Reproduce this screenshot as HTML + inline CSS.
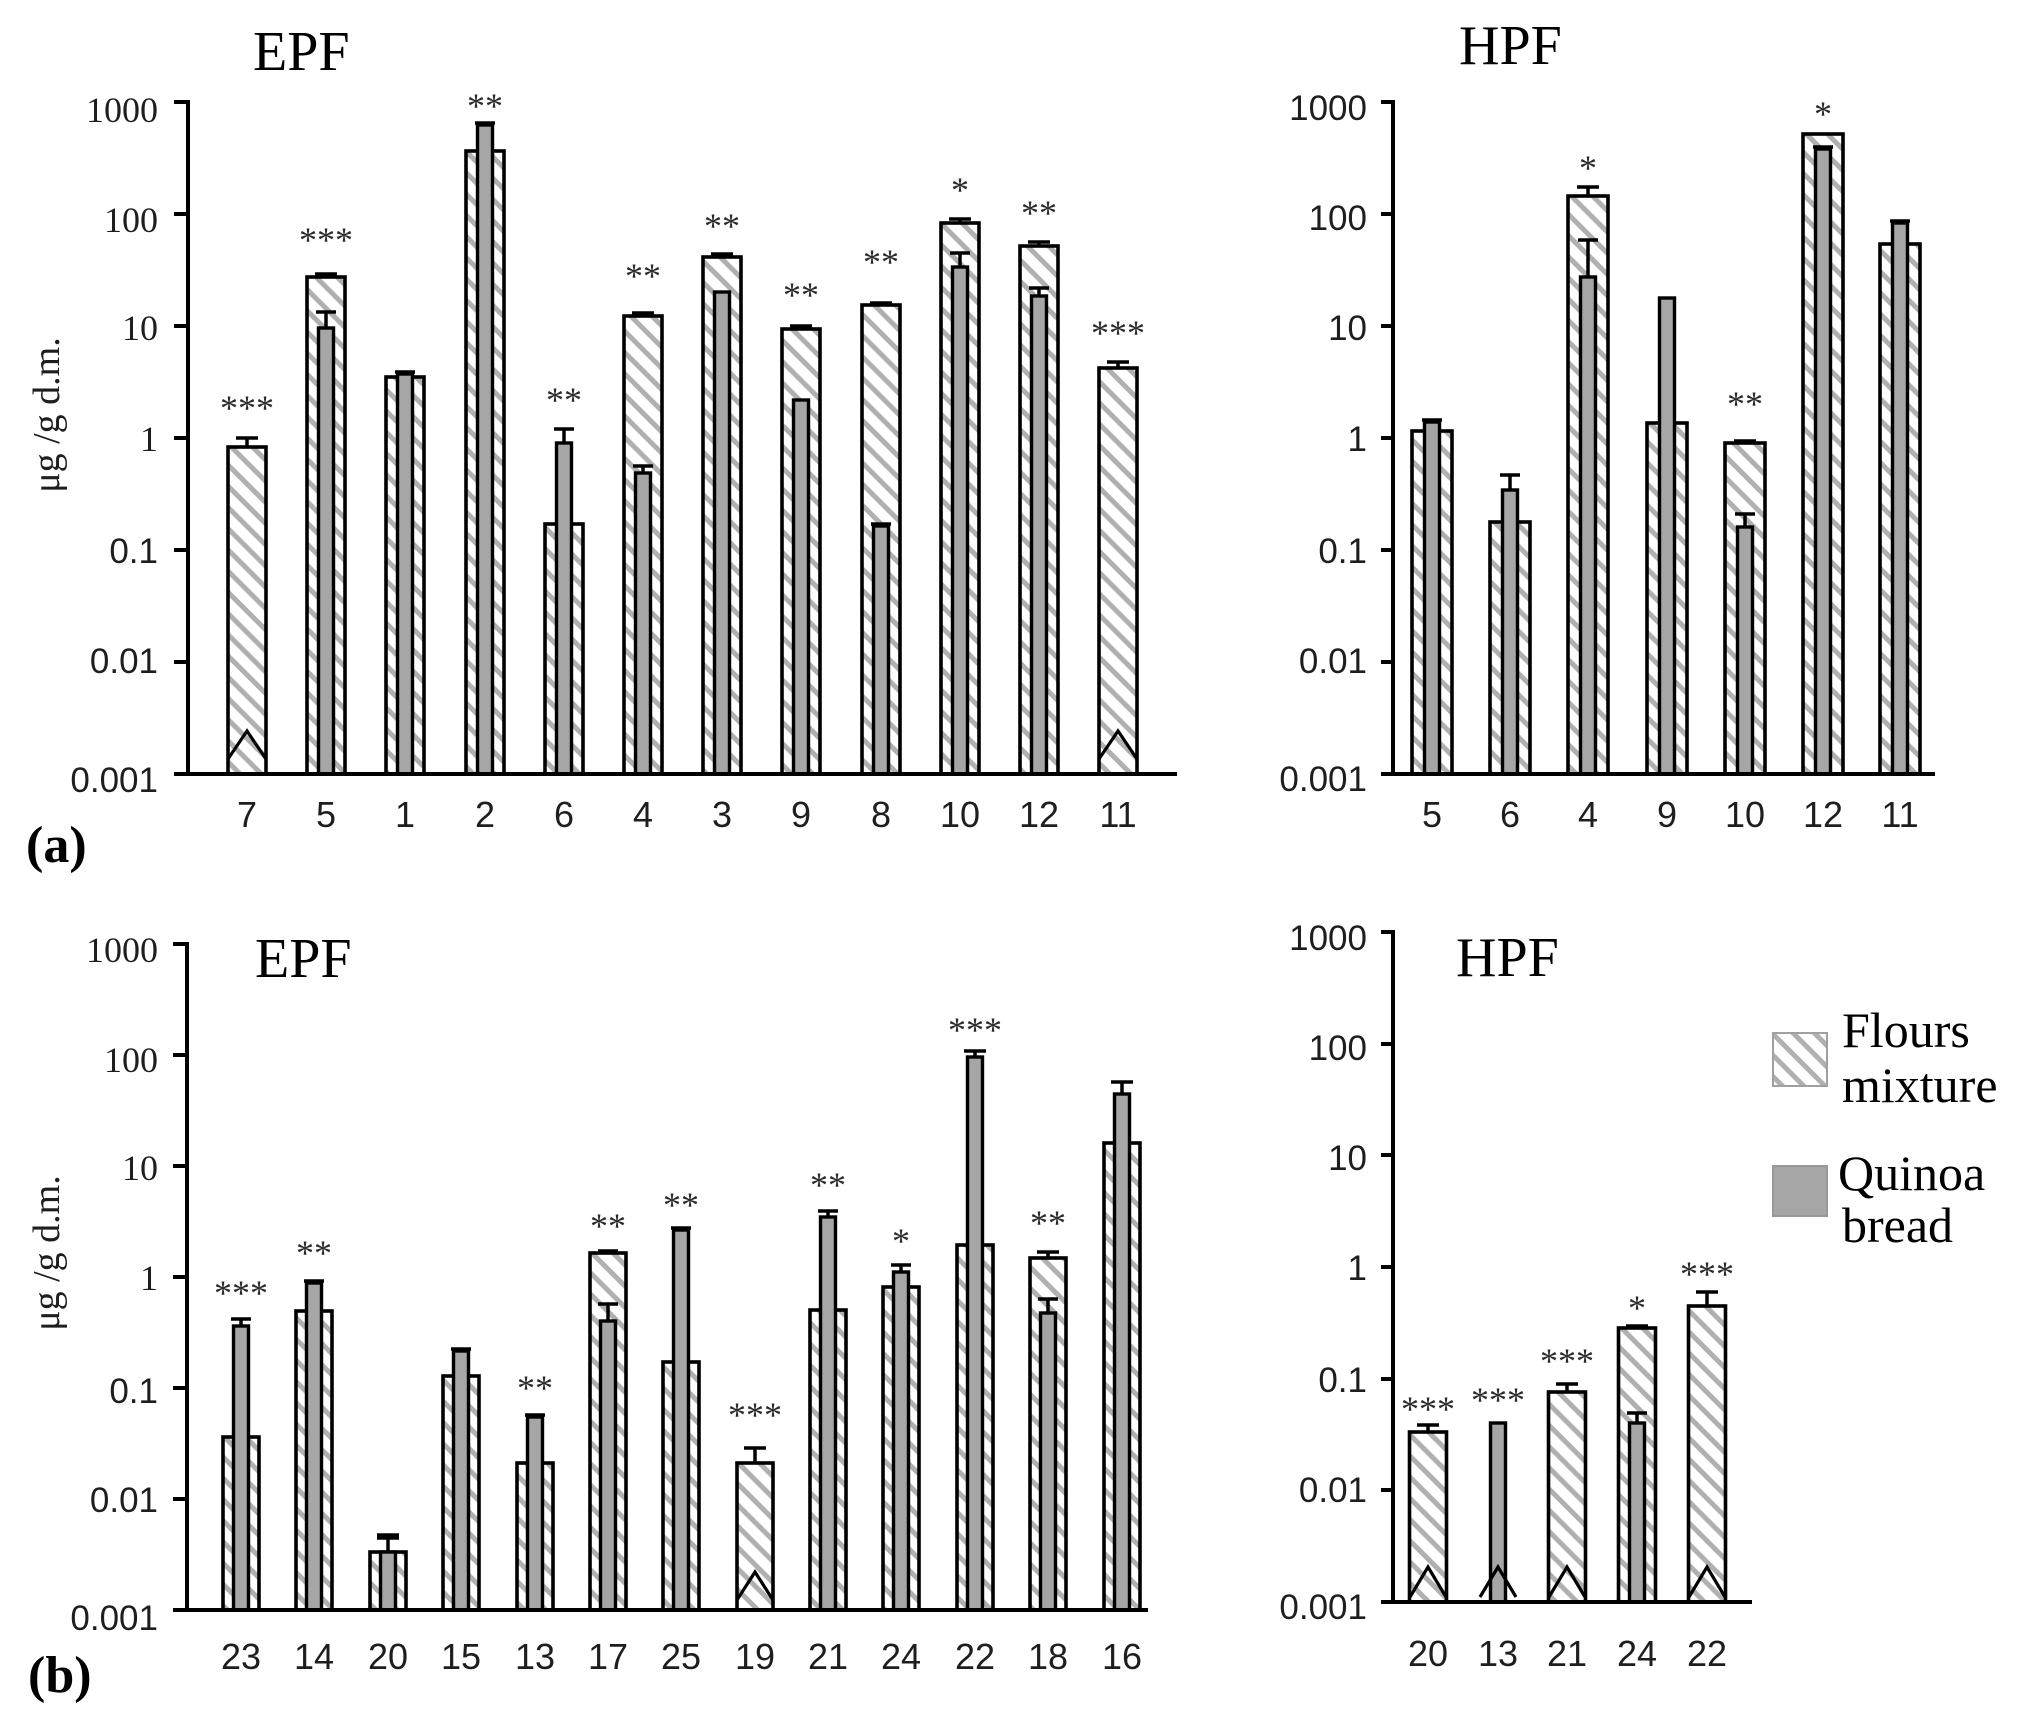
<!DOCTYPE html>
<html><head><meta charset="utf-8"><style>
html,body{margin:0;padding:0;background:#fff;}
svg{display:block;}
.t{font-family:"Liberation Sans",sans-serif;font-size:35px;fill:#1e1e1e;}
.ts{font-family:"Liberation Serif",serif;font-size:36px;fill:#1e1e1e;}
.c{font-family:"Liberation Sans",sans-serif;font-size:36px;fill:#1e1e1e;text-anchor:middle;}
.s{font-family:"Liberation Serif",serif;font-size:36px;fill:#2a2a2a;text-anchor:middle;}
.ti{font-family:"Liberation Serif",serif;font-size:56px;fill:#000;}
.lg{font-family:"Liberation Serif",serif;font-size:50px;fill:#000;}
.yl{font-family:"Liberation Serif",serif;font-size:38px;fill:#1e1e1e;text-anchor:middle;}
.pl{font-family:"Liberation Serif",serif;font-size:52px;font-weight:bold;fill:#000;}
.f{fill:url(#h);stroke:#000;stroke-width:3.6;}
.q{fill:#a6a6a6;stroke:#000;stroke-width:3.4;}
.e{stroke:#000;stroke-width:3.5;fill:none;}
.ax{stroke:#000;stroke-width:4;fill:none;}
.ch{stroke:#000;stroke-width:3.2;fill:none;}
</style></head><body>
<svg width="2035" height="1718" viewBox="0 0 2035 1718" xmlns="http://www.w3.org/2000/svg">
<defs>
<pattern id="h" patternUnits="userSpaceOnUse" width="15" height="15" patternTransform="rotate(45)">
<rect width="15" height="15" fill="#fff"/><rect width="15" height="5" fill="#b0b0b0"/>
</pattern>
</defs>
<rect width="2035" height="1718" fill="#fff"/>

<!-- ================= PANEL A EPF ================= -->
<text class="ti" x="253" y="70">EPF</text>
<text class="yl" transform="rotate(-90 59 415)" x="59" y="415">μg /g d.m.</text>
<text class="pl" x="26" y="862">(a)</text>

<rect class="f" x="228" y="447" width="38" height="327"/>
<path class="e" d="M247 447V438M236 438H258"/>
<polyline class="ch" points="228,759 247,731 266,759"/>

<rect class="f" x="307" y="277" width="38" height="497"/>
<path class="e" d="M326 277V274M315 274H337"/>
<rect class="q" x="318.5" y="328" width="15" height="446"/>
<path class="e" d="M326 328V312M316 312H336"/>

<rect class="f" x="386" y="377" width="38" height="397"/>
<rect class="q" x="397.5" y="374" width="15" height="400"/>
<path class="e" d="M395 372H415"/>

<rect class="f" x="466" y="151" width="38" height="623"/>
<rect class="q" x="477.5" y="125" width="15" height="649"/>
<path class="e" d="M475 123H495"/>

<rect class="f" x="545" y="524" width="38" height="250"/>
<rect class="q" x="556.5" y="443" width="15" height="331"/>
<path class="e" d="M564 443V429M554 429H574"/>

<rect class="f" x="624" y="316" width="38" height="458"/>
<path class="e" d="M643 316V313M632 313H654"/>
<rect class="q" x="635.5" y="473" width="15" height="301"/>
<path class="e" d="M643 473V466M633 466H653"/>

<rect class="f" x="703" y="257" width="38" height="517"/>
<path class="e" d="M722 257V254M711 254H733"/>
<rect class="q" x="714.5" y="292" width="15" height="482"/>

<rect class="f" x="782" y="329" width="38" height="445"/>
<path class="e" d="M801 329V326M790 326H812"/>
<rect class="q" x="793.5" y="400" width="15" height="374"/>

<rect class="f" x="862" y="305" width="38" height="469"/>
<path class="e" d="M881 305V303M870 303H892"/>
<rect class="q" x="873.5" y="526" width="15" height="248"/>
<path class="e" d="M871 524H891"/>

<rect class="f" x="941" y="223" width="38" height="551"/>
<path class="e" d="M960 223V219M949 219H971"/>
<rect class="q" x="952.5" y="267" width="15" height="507"/>
<path class="e" d="M960 267V253M950 253H970"/>

<rect class="f" x="1020" y="246" width="38" height="528"/>
<path class="e" d="M1039 246V242M1028 242H1050"/>
<rect class="q" x="1031.5" y="296" width="15" height="478"/>
<path class="e" d="M1039 296V288M1029 288H1049"/>

<rect class="f" x="1099" y="368" width="38" height="406"/>
<path class="e" d="M1118 368V362M1107 362H1129"/>
<polyline class="ch" points="1099,759 1118,731 1137,759"/>

<text class="s" x="247" y="420">***</text>
<text class="s" x="326" y="252">***</text>
<text class="s" x="485" y="118">**</text>
<text class="s" x="564" y="412">**</text>
<text class="s" x="643" y="288">**</text>
<text class="s" x="722" y="238">**</text>
<text class="s" x="801" y="307">**</text>
<text class="s" x="881" y="274">**</text>
<text class="s" x="960" y="202">*</text>
<text class="s" x="1039" y="225">**</text>
<text class="s" x="1118" y="345">***</text>

<path class="ax" d="M188 100V776M174 774H1177M174 102H188M174 214H188M174 326H188M174 438H188M174 550H188M174 662H188"/>
<text class="ts" x="158" y="122" text-anchor="end">1000</text>
<text class="ts" x="158" y="232" text-anchor="end">100</text>
<text class="ts" x="158" y="340" text-anchor="end">10</text>
<text class="ts" x="158" y="451" text-anchor="end">1</text>
<text class="t" x="158" y="563" text-anchor="end">0.1</text>
<text class="t" x="158" y="673" text-anchor="end">0.01</text>
<text class="t" x="158" y="792" text-anchor="end">0.001</text>

<text class="c" x="247" y="827">7</text>
<text class="c" x="326" y="827">5</text>
<text class="c" x="405" y="827">1</text>
<text class="c" x="485" y="827">2</text>
<text class="c" x="564" y="827">6</text>
<text class="c" x="643" y="827">4</text>
<text class="c" x="722" y="827">3</text>
<text class="c" x="801" y="827">9</text>
<text class="c" x="881" y="827">8</text>
<text class="c" x="960" y="827">10</text>
<text class="c" x="1039" y="827">12</text>
<text class="c" x="1118" y="827">11</text>

<!-- ================= PANEL A HPF ================= -->
<text class="ti" x="1459" y="64">HPF</text>

<rect class="f" x="1412" y="431" width="40" height="343"/>
<rect class="q" x="1424.5" y="422" width="15" height="352"/>
<path class="e" d="M1422 420H1442"/>

<rect class="f" x="1490" y="522" width="40" height="252"/>
<rect class="q" x="1502.5" y="490" width="15" height="284"/>
<path class="e" d="M1510 490V475M1500 475H1520"/>

<rect class="f" x="1568" y="196" width="40" height="578"/>
<path class="e" d="M1588 196V187M1577 187H1599"/>
<rect class="q" x="1580.5" y="277" width="15" height="497"/>
<path class="e" d="M1588 277V240M1578 240H1598"/>

<rect class="f" x="1647" y="423" width="40" height="351"/>
<rect class="q" x="1659.5" y="298" width="15" height="476"/>

<rect class="f" x="1725" y="443" width="40" height="331"/>
<path class="e" d="M1734 441H1756"/>
<rect class="q" x="1737.5" y="527" width="15" height="247"/>
<path class="e" d="M1745 527V514M1735 514H1755"/>

<rect class="f" x="1803" y="134" width="40" height="640"/>
<rect class="q" x="1815.5" y="149" width="15" height="625"/>
<path class="e" d="M1813 147H1833"/>

<rect class="f" x="1880" y="244" width="40" height="530"/>
<rect class="q" x="1892.5" y="223" width="15" height="551"/>
<path class="e" d="M1890 221H1910"/>

<text class="s" x="1588" y="180">*</text>
<text class="s" x="1745" y="416">**</text>
<text class="s" x="1823" y="126">*</text>

<path class="ax" d="M1393 100V776M1381 774H1935M1381 102H1393M1381 214H1393M1381 326H1393M1381 438H1393M1381 550H1393M1381 662H1393"/>
<text class="t" x="1367" y="120" text-anchor="end">1000</text>
<text class="t" x="1367" y="230" text-anchor="end">100</text>
<text class="t" x="1367" y="340" text-anchor="end">10</text>
<text class="t" x="1367" y="451" text-anchor="end">1</text>
<text class="t" x="1367" y="563" text-anchor="end">0.1</text>
<text class="t" x="1367" y="673" text-anchor="end">0.01</text>
<text class="t" x="1367" y="791" text-anchor="end">0.001</text>

<text class="c" x="1432" y="827">5</text>
<text class="c" x="1510" y="827">6</text>
<text class="c" x="1588" y="827">4</text>
<text class="c" x="1667" y="827">9</text>
<text class="c" x="1745" y="827">10</text>
<text class="c" x="1823" y="827">12</text>
<text class="c" x="1900" y="827">11</text>

<!-- ================= PANEL B EPF ================= -->
<text class="ti" x="255" y="977">EPF</text>
<text class="yl" transform="rotate(-90 59 1253)" x="59" y="1253">μg /g d.m.</text>
<text class="pl" x="28" y="1692">(b)</text>

<rect class="f" x="223" y="1437" width="36" height="173"/>
<rect class="q" x="233.5" y="1326" width="15" height="284"/>
<path class="e" d="M241 1326V1319M231 1319H251"/>

<rect class="f" x="296" y="1311" width="36" height="299"/>
<rect class="q" x="306.5" y="1283" width="15" height="327"/>
<path class="e" d="M304 1281H324"/>

<rect class="f" x="370" y="1552" width="36" height="58"/>
<rect class="q" x="380.5" y="1552" width="15" height="58"/>
<path class="e" d="M388 1552V1535M377 1535H399M377 1538H399"/>

<rect class="f" x="443" y="1376" width="36" height="234"/>
<rect class="q" x="453.5" y="1351" width="15" height="259"/>
<path class="e" d="M451 1349H471"/>

<rect class="f" x="517" y="1463" width="36" height="147"/>
<rect class="q" x="527.5" y="1417" width="15" height="193"/>
<path class="e" d="M525 1415H545"/>

<rect class="f" x="590" y="1253" width="36" height="357"/>
<path class="e" d="M598 1251H618"/>
<rect class="q" x="600.5" y="1321" width="15" height="289"/>
<path class="e" d="M608 1321V1304M598 1304H618"/>

<rect class="f" x="663" y="1362" width="36" height="248"/>
<rect class="q" x="673.5" y="1230" width="15" height="380"/>
<path class="e" d="M671 1228H691"/>

<rect class="f" x="737" y="1463" width="36" height="147"/>
<path class="e" d="M755 1463V1448M744 1448H766"/>
<polyline class="ch" points="737,1600 755,1572 773,1600"/>

<rect class="f" x="810" y="1310" width="36" height="300"/>
<rect class="q" x="820.5" y="1217" width="15" height="393"/>
<path class="e" d="M828 1217V1211M818 1211H838"/>

<rect class="f" x="883" y="1287" width="36" height="323"/>
<rect class="q" x="893.5" y="1272" width="15" height="338"/>
<path class="e" d="M901 1272V1265M891 1265H911"/>

<rect class="f" x="957" y="1245" width="36" height="365"/>
<rect class="q" x="967.5" y="1057" width="15" height="553"/>
<path class="e" d="M975 1057V1051M964 1051H986"/>

<rect class="f" x="1030" y="1258" width="36" height="352"/>
<path class="e" d="M1048 1258V1252M1037 1252H1059"/>
<rect class="q" x="1040.5" y="1313" width="15" height="297"/>
<path class="e" d="M1048 1313V1299M1038 1299H1058"/>

<rect class="f" x="1104" y="1143" width="36" height="467"/>
<rect class="q" x="1114.5" y="1094" width="15" height="516"/>
<path class="e" d="M1122 1094V1082M1111 1082H1133"/>

<text class="s" x="241" y="1305">***</text>
<text class="s" x="314" y="1265">**</text>
<text class="s" x="535" y="1400">**</text>
<text class="s" x="608" y="1238">**</text>
<text class="s" x="681" y="1217">**</text>
<text class="s" x="755" y="1427">***</text>
<text class="s" x="828" y="1197">**</text>
<text class="s" x="901" y="1253">*</text>
<text class="s" x="975" y="1042">***</text>
<text class="s" x="1048" y="1235">**</text>

<path class="ax" d="M187 942V1612M173 1610H1148M173 944H187M173 1055H187M173 1166H187M173 1277H187M173 1388H187M173 1499H187"/>
<text class="ts" x="158" y="962" text-anchor="end">1000</text>
<text class="ts" x="158" y="1072" text-anchor="end">100</text>
<text class="ts" x="158" y="1180" text-anchor="end">10</text>
<text class="ts" x="158" y="1290" text-anchor="end">1</text>
<text class="t" x="158" y="1403" text-anchor="end">0.1</text>
<text class="t" x="158" y="1512" text-anchor="end">0.01</text>
<text class="t" x="158" y="1630" text-anchor="end">0.001</text>

<text class="c" x="241" y="1669">23</text>
<text class="c" x="314" y="1669">14</text>
<text class="c" x="388" y="1669">20</text>
<text class="c" x="461" y="1669">15</text>
<text class="c" x="535" y="1669">13</text>
<text class="c" x="608" y="1669">17</text>
<text class="c" x="681" y="1669">25</text>
<text class="c" x="755" y="1669">19</text>
<text class="c" x="828" y="1669">21</text>
<text class="c" x="901" y="1669">24</text>
<text class="c" x="975" y="1669">22</text>
<text class="c" x="1048" y="1669">18</text>
<text class="c" x="1122" y="1669">16</text>

<!-- ================= PANEL B HPF ================= -->
<text class="ti" x="1456" y="976">HPF</text>

<rect class="f" x="1409.5" y="1432" width="37" height="170"/>
<path class="e" d="M1428 1432V1425M1417 1425H1439"/>
<polyline class="ch" points="1410,1597 1428,1567 1446,1597"/>

<rect class="q" x="1490.5" y="1423" width="15" height="179"/>
<polyline class="ch" points="1480,1597 1498,1567 1516,1597"/>

<rect class="f" x="1548.5" y="1392" width="37" height="210"/>
<path class="e" d="M1567 1392V1384M1556 1384H1578"/>
<polyline class="ch" points="1549,1597 1567,1567 1585,1597"/>

<rect class="f" x="1618.5" y="1328" width="37" height="274"/>
<path class="e" d="M1626 1326H1648"/>
<rect class="q" x="1629.5" y="1423" width="15" height="179"/>
<path class="e" d="M1637 1423V1413M1627 1413H1647"/>

<rect class="f" x="1688.5" y="1306" width="37" height="296"/>
<path class="e" d="M1707 1306V1292M1696 1292H1718"/>
<polyline class="ch" points="1689,1597 1707,1567 1725,1597"/>

<text class="s" x="1428" y="1421">***</text>
<text class="s" x="1498" y="1412">***</text>
<text class="s" x="1567" y="1373">***</text>
<text class="s" x="1637" y="1320">*</text>
<text class="s" x="1707" y="1286">***</text>

<path class="ax" d="M1393 930V1604M1381 1602H1752M1381 932H1393M1381 1044H1393M1381 1155H1393M1381 1267H1393M1381 1379H1393M1381 1490H1393"/>
<text class="t" x="1367" y="950" text-anchor="end">1000</text>
<text class="t" x="1367" y="1060" text-anchor="end">100</text>
<text class="t" x="1367" y="1170" text-anchor="end">10</text>
<text class="t" x="1367" y="1280" text-anchor="end">1</text>
<text class="t" x="1367" y="1392" text-anchor="end">0.1</text>
<text class="t" x="1367" y="1502" text-anchor="end">0.01</text>
<text class="t" x="1367" y="1619" text-anchor="end">0.001</text>

<text class="c" x="1428" y="1666">20</text>
<text class="c" x="1498" y="1666">13</text>
<text class="c" x="1567" y="1666">21</text>
<text class="c" x="1637" y="1666">24</text>
<text class="c" x="1707" y="1666">22</text>

<!-- legend -->
<rect x="1773" y="1033" width="54" height="53" fill="url(#h)" stroke="#a0a0a0" stroke-width="2"/>
<text class="lg" x="1842" y="1047">Flours</text>
<text class="lg" x="1842" y="1102">mixture</text>
<rect x="1773" y="1166" width="54" height="50" fill="#a6a6a6" stroke="#999" stroke-width="2"/>
<text class="lg" x="1838" y="1190">Quinoa</text>
<text class="lg" x="1842" y="1242">bread</text>
</svg>
</body></html>
